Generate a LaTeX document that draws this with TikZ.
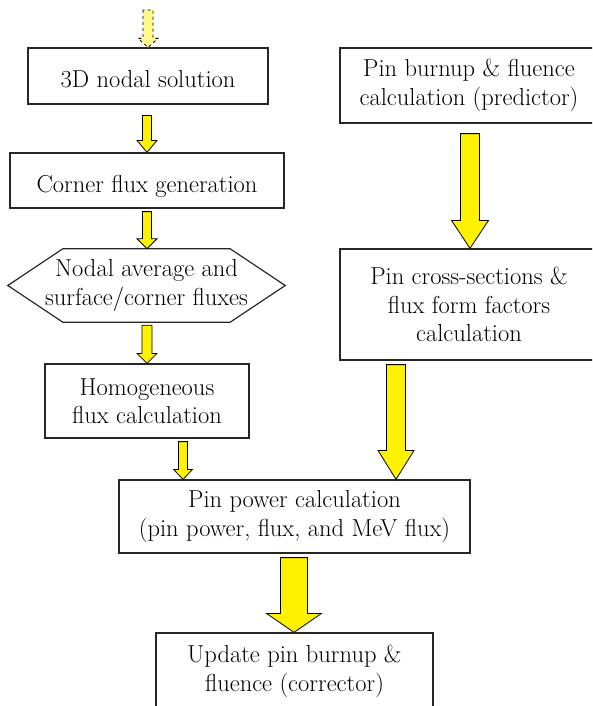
\documentclass[tikz,border=0pt]{standalone}
\usetikzlibrary{calc}

\newcommand{\fatarrow}[8]{%
  \path ($(#2,0 |- #3)+(0,#4)$) coordinate (fa-s) (#2,0 |- #5) coordinate (fa-t);
  \draw[#1] ($(fa-s)+(-#6,0)$) -- ($(fa-t)+(-#6,-#8)$) -- ($(fa-t)+(-#7,-#8)$) -- (fa-t)
    -- ($(fa-t)+(#7,-#8)$) -- ($(fa-t)+(#6,-#8)$) -- ($(fa-s)+(#6,0)$) -- cycle;}

\begin{document}
\begin{tikzpicture}[
    x=1pt, y=-1pt,
    every node/.style={font=\rmfamily\fontsize{24.5}{28.5}\selectfont, align=center, inner sep=0pt},
    block/.style={rectangle, draw=black!85, line width=1.2pt},
    lowtext/.style={text height=24pt, text depth=0pt},
    fat/.style={draw=black, line width=0.8pt, fill=yellow},
    faint/.style={draw=black, line width=0.8pt, dashed, fill=yellow!45}
]
\useasboundingbox (0,0) rectangle (592,706);
\clip (0,0) rectangle (592,706);

\coordinate (in) at (148,10);
\node [block, lowtext, minimum width=240pt, minimum height=56pt] (nodal) at (148,76) {3D nodal solution};
\node [block, lowtext, minimum width=274pt, minimum height=55pt] (corner) at (147,180.5) {Corner flux generation};
\node [minimum width=277pt, minimum height=73pt] (hex) at (146.5,285.5) {Nodal average and\\surface/corner fluxes};
\node [block, minimum width=204pt, minimum height=74pt] (homog) at (147,401) {Homogeneous\\flux calculation};
\node [block, minimum width=258pt, minimum height=75pt] (burnup) at (469,85.5) {Pin burnup \& fluence\\calculation (predictor)};
\node [block, minimum width=258pt, minimum height=111pt] (xsec) at (469,304.5) {Pin cross-sections \&\\flux form factors\\calculation};
\node [block, minimum width=351pt, minimum height=73pt] (pinpow) at (294.5,516.5) {Pin power calculation\\(pin power, flux, and MeV flux)};
\node [block, minimum width=277pt, minimum height=77pt] (update) at (294.5,671.5) {Update pin burnup \&\\fluence (corrector)};

\draw [line width=1.2pt, draw=black!85] (hex.west) -- ($(hex.north west)+(55,0)$) -- ($(hex.north east)+(-55,0)$)
    -- (hex.east) -- ($(hex.south east)+(-55,0)$) -- ($(hex.south west)+(55,0)$) -- cycle;

\fatarrow{faint}{148}{in}{0}{nodal.north}{5}{10}{9}
\fatarrow{fat}{147}{nodal.south}{11}{corner.north}{4.5}{10}{12}
\fatarrow{fat}{147}{corner.south}{3}{hex.north}{4.5}{10}{10}
\fatarrow{fat}{147}{hex.south}{3}{homog.north}{5}{10}{10}
\fatarrow{fat}{183}{homog.south}{3}{pinpow.north}{4.5}{9.5}{10}
\fatarrow{fat}{470}{burnup.south}{10}{xsec.north}{9.5}{18.5}{28}
\fatarrow{fat}{396}{xsec.south}{4}{pinpow.north}{9.5}{18}{29}
\fatarrow{fat}{294}{pinpow.south}{4}{update.north}{13.5}{27.5}{19}

\end{tikzpicture}
\end{document}
